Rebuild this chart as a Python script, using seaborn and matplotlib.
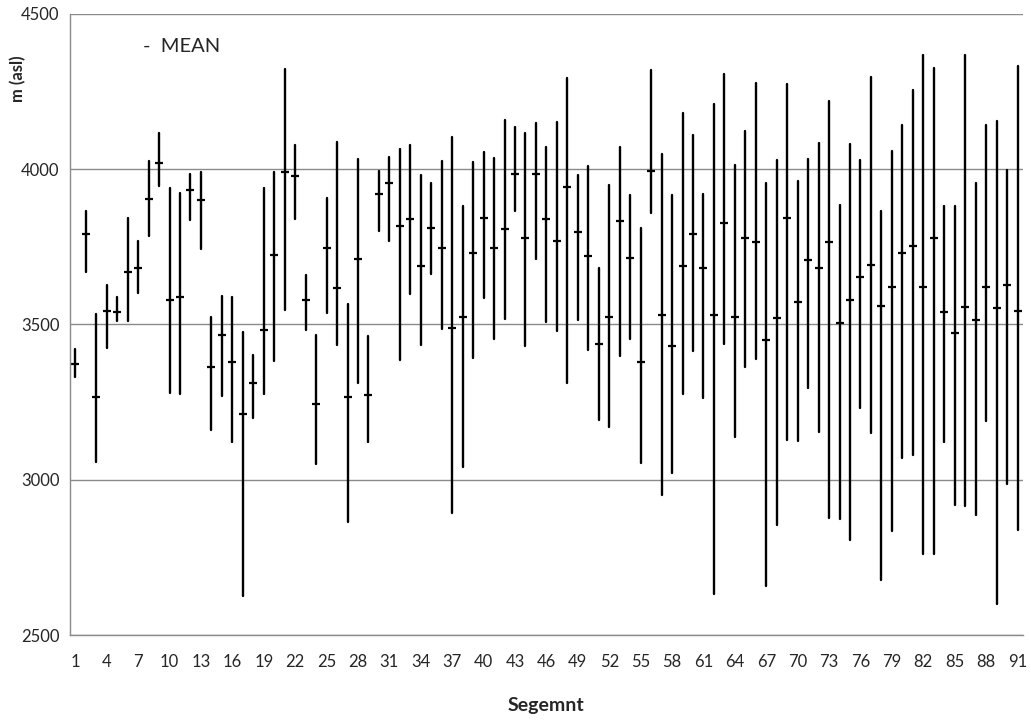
import numpy as np
import pandas as pd
import matplotlib
matplotlib.use("Agg")
import matplotlib.pyplot as plt
import seaborn as sns

# -------- data --------
segments = list(range(1, 92))

high = [3421, 3866, 3533, 3627, 3587, 3843, 3769, 4027, 4117, 3939, 3923, 3985, 3990, 3525, 3590,
        3589, 3475, 3400, 3940, 3992, 4322, 4076, 3658, 3467, 3906, 4087, 3567, 4033, 3464, 3995,
        4039, 4065, 4077, 3980, 3955, 4027, 4104, 3881, 4022, 4056, 4037, 4159, 4136, 4115, 4149, 4072,
        4151, 4294, 3982, 4011, 3681, 3947, 4072, 3916, 3809, 4319, 4047, 3916, 4179, 4110, 3921,
        4208, 4305, 4014, 4123, 4277, 3954, 4028, 4274, 3963, 4031, 4084, 4220, 3883, 4080, 4030,
        4297, 3864, 4057, 4142, 4254, 4366, 4324, 3882, 3882, 4366, 3954, 4141, 4153, 3997, 4331]

low = [3330, 3668, 3057, 3423, 3510, 3511, 3600, 3784, 3946, 3278, 3275, 3836, 3742, 3160, 3271,
       3122, 2627, 3199, 3277, 3383, 3547, 3840, 3483, 3049, 3536, 3433, 2864, 3311, 3122, 3799,
       3769, 3385, 3598, 3435, 3662, 3486, 2894, 3041, 3391, 3586, 3452, 3516, 3864, 3431, 3710, 3507,
       3478, 3311, 3513, 3419, 3191, 3170, 3398, 3453, 3053, 3859, 2952, 3022, 3277, 3414, 3262,
       2633, 3437, 3138, 3362, 3387, 2657, 2855, 3127, 3126, 3294, 3152, 2878, 2874, 2807, 3231,
       3149, 2677, 2834, 3070, 3079, 2762, 2762, 3122, 2918, 2916, 2885, 3189, 2600, 2986, 2837]

mean = [3372, 3791, 3265, 3543, 3541, 3669, 3682, 3904, 4018, 3577, 3589, 3931, 3900, 3362, 3465,
        3378, 3213, 3312, 3483, 3722, 3990, 3977, 3578, 3243, 3745, 3617, 3265, 3710, 3273, 3919,
        3954, 3815, 3839, 3688, 3809, 3746, 3488, 3525, 3729, 3843, 3745, 3806, 3985, 3777, 3985, 3839,
        3767, 3942, 3798, 3720, 3438, 3524, 3834, 3712, 3378, 3995, 3529, 3429, 3687, 3791, 3682,
        3529, 3825, 3524, 3777, 3764, 3449, 3520, 3841, 3573, 3708, 3682, 3765, 3505, 3579, 3651,
        3692, 3559, 3619, 3730, 3753, 3621, 3777, 3541, 3473, 3555, 3514, 3619, 3554, 3627, 3543]

df = pd.DataFrame({"Segment": segments, "High": high, "Low": low, "Mean": mean})
rng = df.melt(id_vars="Segment", value_vars=["Low", "High"], value_name="m")

# -------- style --------
sns.set_style("white")
plt.rcParams["font.family"] = ["Lato", "DejaVu Sans"]
grey = "#8a8a8a"

fig = plt.figure(figsize=(10.31, 7.2), dpi=100)
ax = fig.add_axes([0.068, 0.118, 0.924, 0.863])

# high-low lines
sns.lineplot(data=rng, x="Segment", y="m", units="Segment", estimator=None,
             color="black", lw=1.7, ax=ax)
# mean marks
sns.scatterplot(data=df, x="Segment", y="Mean", marker="_", s=35,
                color="black", linewidth=1.6, ax=ax)

ax.set_xlim(0.5, 91.5)
ax.set_ylim(2500, 4500)
ax.set_yticks(range(2500, 4501, 500))
ax.yaxis.grid(True, color=grey, lw=1)
ax.set_axisbelow(True)

ax.set_xticks(range(1, 92, 3))
ax.set_xticks(np.arange(0.5, 92, 1), minor=True)
ax.tick_params(axis="x", which="major", length=0, pad=14, labelsize=12)
ax.tick_params(axis="x", which="minor", length=4.5, color=grey, width=1)
ax.tick_params(axis="y", length=4.5, color=grey, width=1, pad=3, labelsize=12)

for s in ["top", "right"]:
    ax.spines[s].set_visible(False)
for s in ["left", "bottom"]:
    ax.spines[s].set_color(grey)
    ax.spines[s].set_linewidth(1)

ax.set_xlabel("Segemnt", fontsize=14, fontweight="bold", labelpad=19)
ax.set_ylabel("m (asl)", fontsize=12, fontweight="bold")
ax.yaxis.set_label_coords(-0.046, 0.895)

ax.text(0.077, 0.947, "-  MEAN", transform=ax.transAxes, fontsize=14.5,
        va="center", ha="left")

fig.savefig("out.png", dpi=100)
